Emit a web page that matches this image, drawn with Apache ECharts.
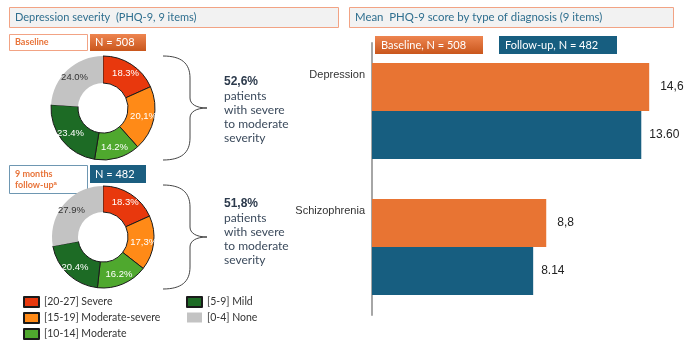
<!DOCTYPE html>
<html>
<head>
<meta charset="utf-8">
<script src="https://cdn.jsdelivr.net/npm/echarts@6/dist/echarts.min.js"></script>
<style>
  html, body { margin: 0; padding: 0; background: #fff; }
  #main { width: 685px; height: 347px; }
</style>
</head>
<body>
<div id="main"></div>
<script>
// severity groups (donuts)
const severityNames = ['[20-27] Severe', '[15-19] Moderate-severe', '[10-14] Moderate', '[5-9] Mild', '[0-4] None']
const severityColors = ['#e8380d', '#ff8a17', '#4fa82e', '#1d6b25', '#c3c3c3']
const baselinePct = [18.3, 20.1, 14.2, 23.4, 24.0]
const baselinePctText = ['18.3%', '20,1%', '14.2%', '23.4%', '24.0%']
const followupPct = [18.3, 17.3, 16.2, 20.4, 27.9]
const followupPctText = ['18.3%', '17,3%', '16.2%', '20.4%', '27.9%']

// mean PHQ-9 by diagnosis (bar lengths, labels as printed)
const diagnoses = ['Depression', 'Schizophrenia']
const baselineMean = [14.0, 8.8]
const baselineMeanText = ['14,6', '8,8']
const followupMean = [13.6, 8.14]
const followupMeanText = ['13.60', '8.14']

const FONT = 'Lato, "Liberation Sans", sans-serif'
const ARIAL = '"Liberation Sans", Arial, sans-serif'

const chart = echarts.init(document.getElementById('main'))

const pieData = (vals, texts) =>
  vals.map((v, i) => ({
    name: severityNames[i],
    value: v,
    itemStyle: {
      color: severityColors[i],
      borderColor: i === 4 ? '#c3c3c3' : '#1a1a1a',
      borderWidth: i === 4 ? 0 : 1,
    },
    label: { formatter: texts[i], color: i === 4 ? '#333' : '#fff' },
  }))

const pieSeries = (center, radius, vals, texts) => ({
  type: 'pie',
  center: center,
  radius: radius,
  startAngle: 90,
  silent: true,
  label: { show: true, position: 'inside', fontSize: 9.5, fontFamily: ARIAL },
  labelLine: { show: false },
  data: pieData(vals, texts),
})

const orangeGrad = () => new echarts.graphic.LinearGradient(0, 0, 0, 1, [
  { offset: 0, color: '#ee8550' },
  { offset: 1, color: '#c9561c' },
])

const braceStyle = { fill: null, stroke: '#444', lineWidth: 1 }
// curly brace made of curves and lines, shifted down by dy
const brace = (dy) => ({
  type: 'group',
  y: dy,
  children: [
    { type: 'bezierCurve', shape: { x1: 163, y1: 56, cpx1: 181, cpy1: 56, cpx2: 190, cpy2: 63, x2: 190, y2: 78 }, style: braceStyle },
    { type: 'line', shape: { x1: 190, y1: 78, x2: 190, y2: 98 }, style: braceStyle },
    { type: 'bezierCurve', shape: { x1: 190, y1: 98, cpx1: 190, cpy1: 104, cpx2: 196, cpy2: 108, x2: 207, y2: 108 }, style: braceStyle },
    { type: 'bezierCurve', shape: { x1: 207, y1: 108, cpx1: 196, cpy1: 108, cpx2: 190, cpy2: 112, x2: 190, y2: 118 }, style: braceStyle },
    { type: 'line', shape: { x1: 190, y1: 118, x2: 190, y2: 138 }, style: braceStyle },
    { type: 'bezierCurve', shape: { x1: 190, y1: 138, cpx1: 190, cpy1: 153, cpx2: 181, cpy2: 160, x2: 163, y2: 160 }, style: braceStyle },
  ],
})

const box = (x, y, w, h, fill, stroke) => ({
  type: 'rect',
  shape: { x: x, y: y, width: w, height: h },
  style: { fill: fill, stroke: stroke || null, lineWidth: 1 },
})
const txt = (x, y, text, fontSize, color, extra) => ({
  type: 'text',
  x: x,
  y: y,
  style: Object.assign({ text: text, fontSize: fontSize, fill: color, fontFamily: FONT, verticalAlign: 'middle' }, extra || {}),
})

const legendBase = {
  orient: 'vertical',
  top: 296,
  height: 60,
  padding: 0,
  icon: 'rect',
  itemWidth: 15,
  itemHeight: 10,
  itemGap: 4,
  textStyle: { fontSize: 10.5, color: '#333', fontFamily: FONT },
  selectedMode: false,
}

chart.setOption({
  animation: false,
  textStyle: { fontFamily: FONT },
  legend: [
    Object.assign({ data: severityNames.slice(0, 3), left: 23 }, legendBase),
    Object.assign({ data: severityNames.slice(3), left: 186 }, legendBase),
  ],
  grid: { left: 372, top: 43, width: 297, height: 272 },
  xAxis: { type: 'value', min: 0, max: 15, show: false },
  yAxis: {
    type: 'category',
    data: diagnoses,
    inverse: true,
    axisLine: { lineStyle: { color: '#a6a6a6', width: 2 } },
    axisTick: { show: false },
    axisLabel: {
      color: '#333', margin: 7,
      formatter: (v) => '{t|' + v + '}\n{g|}',
      rich: {
        t: { fontSize: 11, fontFamily: ARIAL, color: '#333', lineHeight: 14 },
        g: { height: 72, lineHeight: 72 },
      },
    },
  },
  series: [
    pieSeries([103, 108], [25, 52], baselinePct, baselinePctText),
    pieSeries([103, 237], [25, 51], followupPct, followupPctText),
    {
      type: 'bar',
      name: 'Baseline',
      data: baselineMean,
      barWidth: 48,
      barGap: 0,
      itemStyle: { color: '#e87433' },
      label: {
        show: true, position: 'right', distance: 11, fontSize: 12, color: '#222', fontFamily: ARIAL,
        formatter: (p) => baselineMeanText[p.dataIndex],
      },
    },
    {
      type: 'bar',
      name: 'Follow-up',
      data: followupMean,
      barWidth: 48,
      barGap: 0,
      itemStyle: { color: '#175e80' },
      label: {
        show: true, position: 'right', distance: 8, fontSize: 12, color: '#222', fontFamily: ARIAL,
        formatter: (p) => followupMeanText[p.dataIndex],
      },
    },
  ],
  graphic: [
    // left panel header
    box(9.5, 7.5, 329, 20, '#f2f2f2', '#f2a384'),
    txt(15, 17.5, 'Depression severity  (PHQ-9, 9 items)', 11, '#2f6f8f'),
    box(9.5, 34.5, 78, 16, '#fff', '#f2a384'),
    txt(15, 42.5, 'Baseline', 9, '#e8743a', { fontWeight: 'bold' }),
    box(90, 34, 56, 17, orangeGrad()),
    txt(95, 42.5, 'N = 508', 11, '#fff'),
    box(9.5, 165.5, 78, 28, '#fff', '#6e97b2'),
    {
      type: 'text', x: 15, y: 169,
      style: {
        text: '9 months\nfollow-up{s|a}', fontSize: 9, fontWeight: 'bold', fill: '#e8743a', fontFamily: FONT,
        lineHeight: 11, rich: { s: { fontSize: 6, fontWeight: 'bold', fill: '#e8743a', verticalAlign: 'top', lineHeight: 8 } },
      },
    },
    box(90, 165, 56, 18, '#1b5e80'),
    txt(95, 174, 'N = 482', 11, '#fff'),
    // braces
    brace(0),
    brace(129),
    {
      type: 'text', x: 224, y: 75,
      style: {
        text: '{b|52,6%}\npatients\nwith severe\nto moderate\nseverity', fontSize: 12, fill: '#3b4a5c', fontFamily: FONT,
        lineHeight: 14, rich: { b: { fontWeight: 'bold', fontSize: 12, fill: '#2c3a4c', lineHeight: 14 } },
      },
    },
    {
      type: 'text', x: 224, y: 197,
      style: {
        text: '{b|51,8%}\npatients\nwith severe\nto moderate\nseverity', fontSize: 12, fill: '#3b4a5c', fontFamily: FONT,
        lineHeight: 14, rich: { b: { fontWeight: 'bold', fontSize: 12, fill: '#2c3a4c', lineHeight: 14 } },
      },
    },
    // right panel header and legend boxes
    box(349.5, 7.5, 324, 20, '#f2f2f2', '#f2a384'),
    txt(355, 17.5, 'Mean  PHQ-9 score by type of diagnosis (9 items)', 11.4, '#2f6f8f'),
    { type: 'group', z: 100, children: [
      box(375, 36, 108, 18, orangeGrad()),
      txt(381, 45, 'Baseline, N = 508', 11, '#fff'),
      box(499, 36, 118, 18, '#175e80'),
      txt(505, 45, 'Follow-up, N = 482', 11, '#fff'),
    ] },
  ],
})
</script>
</body>
</html>
